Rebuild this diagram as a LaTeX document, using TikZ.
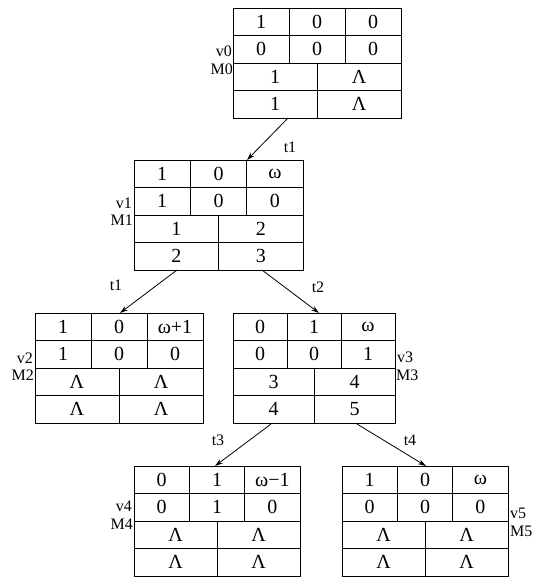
\documentclass[tikz,border=0pt]{standalone}
\usepackage{fontspec}
\setmainfont{Liberation Serif}
\usetikzlibrary{arrows.meta}
\newcommand\ptab[6]{%
  % #1 name, #2 x left, #3 y top, #4 width, #5 six upper entries, #6 four lower entries
  \begin{scope}[shift={(#2,#3)}]
    \node[frame, minimum width=#4pt, minimum height=110pt, anchor=north west] (#1) at (0,0) {};
    \foreach \r in {1,2,3} \draw[grid] (0,27.5*\r) -- (#4,27.5*\r);
    \draw[grid] (#4/3,0) -- (#4/3,55);
    \draw[grid] (2*#4/3,0) -- (2*#4/3,55);
    \draw[grid] (#4/2,55) -- (#4/2,110);
    \foreach \txt [count=\i from 0] in {#5} {
      \pgfmathsetmacro\cx{(mod(\i,3)+0.5)*#4/3}
      \pgfmathsetmacro\cy{(floor(\i/3)+0.5)*27.5}
      \node[cell] (#1-u\i) at (\cx,\cy) {\txt};
    }
    \foreach \txt [count=\i from 0] in {#6} {
      \pgfmathsetmacro\cx{(mod(\i,2)+0.5)*#4/2}
      \pgfmathsetmacro\cy{55+(floor(\i/2)+0.5)*27.5}
      \node[cell] (#1-l\i) at (\cx,\cy) {\txt};
    }
  \end{scope}}
\begin{document}
\begin{tikzpicture}[x=1pt,y=-1pt,
  frame/.style={draw, line width=1pt, inner sep=0pt},
  grid/.style={line width=0.9pt},
  cell/.style={font=\fontsize{20}{22}\selectfont, inner sep=0pt},
  lab/.style={font=\fontsize{16}{18}\selectfont, inner sep=0pt},
  conn/.style={line width=0.8pt, -{Stealth[length=8pt,width=5pt]}}]
\useasboundingbox (0,0) rectangle (540,578);

\ptab{T0}{233}{8}{168}{1,0,0,0,0,0}{1,Λ,1,Λ}
\ptab{T1}{134}{160}{169}{1,0,ω,1,0,0}{1,2,2,3}
\ptab{T2}{35}{313}{168}{1,0,ω+1,1,0,0}{Λ,Λ,Λ,Λ}
\ptab{T3}{233}{313}{162}{0,1,ω,0,0,1}{3,4,4,5}
\ptab{T4}{134}{466}{166}{0,1,ω−1,0,1,0}{Λ,Λ,Λ,Λ}
\ptab{T5}{342}{466}{166}{1,0,ω,0,0,0}{Λ,Λ,Λ,Λ}

% state labels
\node[lab, anchor=east] (v0) at (232,51) {v0};
\node[lab, anchor=east] (m0) at (233,69) {M0};
\node[lab, anchor=east] (v1) at (132,203) {v1};
\node[lab, anchor=east] (m1) at (133,220) {M1};
\node[lab, anchor=east] (v2) at (33,358) {v2};
\node[lab, anchor=east] (m2) at (34,375) {M2};
\node[lab, anchor=west] (v3) at (397,357) {v3};
\node[lab, anchor=west] (m3) at (396,375) {M3};
\node[lab, anchor=east] (v4) at (132,506) {v4};
\node[lab, anchor=east] (m4) at (133,524) {M4};
\node[lab, anchor=west] (v5) at (510,513) {v5};
\node[lab, anchor=west] (m5) at (510,531) {M5};

% connector end points
\coordinate (s0) at (288,118);
\coordinate (e1) at (247,160);
\coordinate (s1a) at (177,270);
\coordinate (e2) at (120,313);
\coordinate (s1b) at (262,270);
\coordinate (e3) at (319,313);
\coordinate (s3a) at (271,424);
\coordinate (e4) at (215,466);
\coordinate (s3b) at (357,424);
\coordinate (e5) at (426,466);

\draw[conn] (s0) -- (e1);
\draw[conn] (s1a) -- (e2);
\draw[conn] (s1b) -- (e3);
\draw[conn] (s3a) -- (e4);
\draw[conn] (s3b) -- (e5);

\node[lab] (t01) at (290,147) {t1};
\node[lab] (t12) at (116,285) {t1};
\node[lab] (t13) at (318,287) {t2};
\node[lab] (t34) at (218,440) {t3};
\node[lab] (t35) at (410,440) {t4};
\end{tikzpicture}
\end{document}
